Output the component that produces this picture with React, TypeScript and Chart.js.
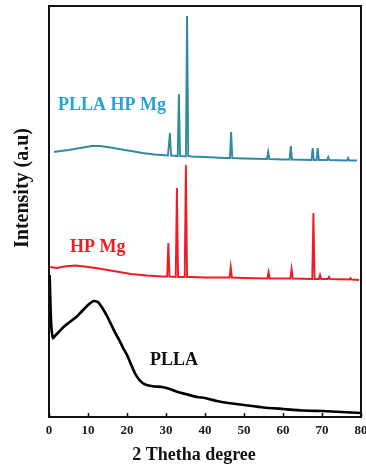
import React, { useEffect, useRef } from "react";
import { Chart, registerables } from "chart.js";

Chart.register(...registerables);

// X axis ticks (2θ, degrees)
const xTickValues = [0, 10, 20, 30, 40, 50, 60, 70, 80];

// PLLA HP Mg (top trace, offset intensity)
const pllaHpMgAngle = [1.3, 3, 5, 8, 11, 13, 15, 18, 21, 24, 27, 30.5, 31.0, 31.3, 33.0, 33.3, 33.6, 35.1, 35.4, 35.7, 36.5, 40, 45, 46.4, 46.7, 47.0, 50, 55.9, 56.2, 56.5, 60, 61.7, 62.0, 62.3, 67.3, 67.6, 67.9, 68.6, 68.9, 69.2, 71.3, 71.6, 71.9, 76.4, 76.7, 77.0, 79];
const pllaHpMgIntensity = [265, 266, 267, 269, 271, 271, 270, 268, 266, 264, 262.5, 261.5, 284, 261.5, 261, 323, 261, 260.5, 401, 261, 260.5, 260, 259, 259, 285, 259, 258.5, 258, 265, 258, 257.5, 257.5, 271, 257.5, 257, 269, 257, 257, 269, 257, 257, 260, 257, 256.5, 259, 256.5, 256.5];

// HP Mg (middle trace)
const hpMgAngle = [0.3, 2, 4, 6.7, 9, 12, 15, 18, 21, 25, 29, 30.3, 30.6, 30.9, 32.5, 32.8, 33.1, 34.8, 35.1, 35.4, 36.5, 40, 46.3, 46.6, 46.9, 50, 56.0, 56.3, 56.6, 61.9, 62.2, 62.5, 67.5, 67.8, 68.1, 69.2, 69.5, 69.8, 71.5, 71.8, 72.1, 77.0, 77.3, 77.6, 79.5];
const hpMgIntensity = [150, 149, 150.5, 151.5, 150.5, 149, 147, 145, 143, 141.5, 140.5, 140.5, 174, 140.5, 140, 229, 140, 140, 252, 140, 140, 139.5, 139.5, 150, 139.5, 139, 138.5, 145, 138.5, 138.5, 148, 138.5, 138, 204, 138, 138, 142, 138, 138, 140, 138, 137.5, 139, 137.5, 137];

// PLLA (bottom trace)
const pllaAngle = [0.15, 0.5, 1.0, 2, 3, 4, 5, 6, 7, 8, 9, 10, 11, 11.5, 12.5, 13, 14, 15, 16, 17, 18, 19, 20, 21, 22, 23, 24, 25, 27, 29, 31, 33, 35, 38, 40, 43, 46, 50, 55, 60, 65, 70, 75, 80];
const pllaIntensity = [142, 97, 79, 83, 87, 91, 94, 97, 100, 104, 108, 112, 115, 116, 115, 113, 107, 100, 92, 84, 77, 69, 62, 53, 44, 38, 34, 32, 30.5, 30, 28, 25, 23, 20, 19, 16, 14, 12, 9.5, 8, 6.5, 6, 5, 4];

// Series labels placed in data coordinates
const labelTexts = ["PLLA HP Mg", "HP Mg", "PLLA"];
const labelAngles = [2.3, 5.4, 25.9];
const labelIntensities = [312, 170, 57];

const SERIF = "'Liberation Serif', 'Times New Roman', serif";

const toPoints = (xs: number[], ys: number[]) => xs.map((x, i) => ({ x, y: ys[i] }));

const decorPlugin = {
  id: "decor",
  afterDraw(chart: any) {
    const { ctx, chartArea, scales } = chart;
    const xs = scales.x;
    const ys = scales.y;
    ctx.save();
    // frame
    ctx.strokeStyle = "#111";
    ctx.lineWidth = 2;
    ctx.strokeRect(chartArea.left, chartArea.top, chartArea.right - chartArea.left, chartArea.bottom - chartArea.top);
    // inside tick marks on x axis
    ctx.lineWidth = 1.5;
    xTickValues.forEach((v) => {
      const px = Math.round(xs.getPixelForValue(v)) + 0.5;
      ctx.beginPath();
      ctx.moveTo(px, chartArea.bottom);
      ctx.lineTo(px, chartArea.bottom - 4);
      ctx.stroke();
    });
    // series labels
    const labelColors = ["#2aa2d8", "#ee1c25", "#111111"];
    ctx.font = `bold 18px ${SERIF}`;
    ctx.textBaseline = "middle";
    ctx.textAlign = "left";
    labelTexts.forEach((t, i) => {
      ctx.fillStyle = labelColors[i];
      ctx.fillText(t, xs.getPixelForValue(labelAngles[i]), ys.getPixelForValue(labelIntensities[i]));
    });
    // axis titles
    ctx.fillStyle = "#111";
    ctx.font = `bold 18px ${SERIF}`;
    ctx.textAlign = "center";
    ctx.fillText("2 Thetha degree", 194, 455);
    ctx.translate(23, 188);
    ctx.rotate(-Math.PI / 2);
    ctx.font = `bold 20px ${SERIF}`;
    ctx.fillText("Intensity (a.u)", 0, 0);
    ctx.restore();
  },
};

export default function App() {
  const ref = useRef<HTMLCanvasElement | null>(null);
  useEffect(() => {
    document.body.style.margin = "0";
    const canvas = ref.current;
    if (!canvas) return;
    const chart = new Chart(canvas, {
      type: "line",
      data: {
        datasets: [
          {
            label: "PLLA HP Mg",
            data: toPoints(pllaHpMgAngle, pllaHpMgIntensity),
            borderColor: "#2f8ba1",
            borderWidth: 1.9,
            pointRadius: 0,
            tension: 0,
          },
          {
            label: "HP Mg",
            data: toPoints(hpMgAngle, hpMgIntensity),
            borderColor: "#ee1c25",
            borderWidth: 1.9,
            pointRadius: 0,
            tension: 0,
          },
          {
            label: "PLLA",
            data: toPoints(pllaAngle, pllaIntensity),
            borderColor: "#000000",
            borderWidth: 2.7,
            pointRadius: 0,
            tension: 0.15,
          },
        ],
      },
      options: {
        animation: false,
        responsive: false,
        devicePixelRatio: 1,
        layout: { autoPadding: false, padding: { top: 6, right: 5, left: 0, bottom: 0 } },
        plugins: { legend: { display: false }, tooltip: { enabled: false } },
        scales: {
          x: {
            type: "linear",
            min: 0,
            max: 80,
            afterFit: (s: any) => {
              s.height = 51;
              s.paddingLeft = 0;
              s.paddingRight = 0;
            },
            afterBuildTicks: (s: any) => { s.ticks = xTickValues.map((v) => ({ value: v })); },
            grid: { display: false, drawTicks: false },
            border: { display: false },
            ticks: {
              padding: 6,
              color: "#1a1a1a",
              font: { family: SERIF, size: 13, weight: "bold" },
              maxRotation: 0,
            },
          },
          y: {
            type: "linear",
            min: 0,
            max: 411,
            afterFit: (s: any) => {
              s.width = 49;
              s.paddingTop = 0;
              s.paddingBottom = 0;
            },
            grid: { display: false, drawTicks: false },
            border: { display: false },
            ticks: { display: false },
          },
        },
      } as any,
      plugins: [decorPlugin],
    });
    return () => chart.destroy();
  }, []);
  return (
    <div style={{ width: 366, height: 468 }}>
      <canvas ref={ref} width={366} height={468} />
    </div>
  );
}
